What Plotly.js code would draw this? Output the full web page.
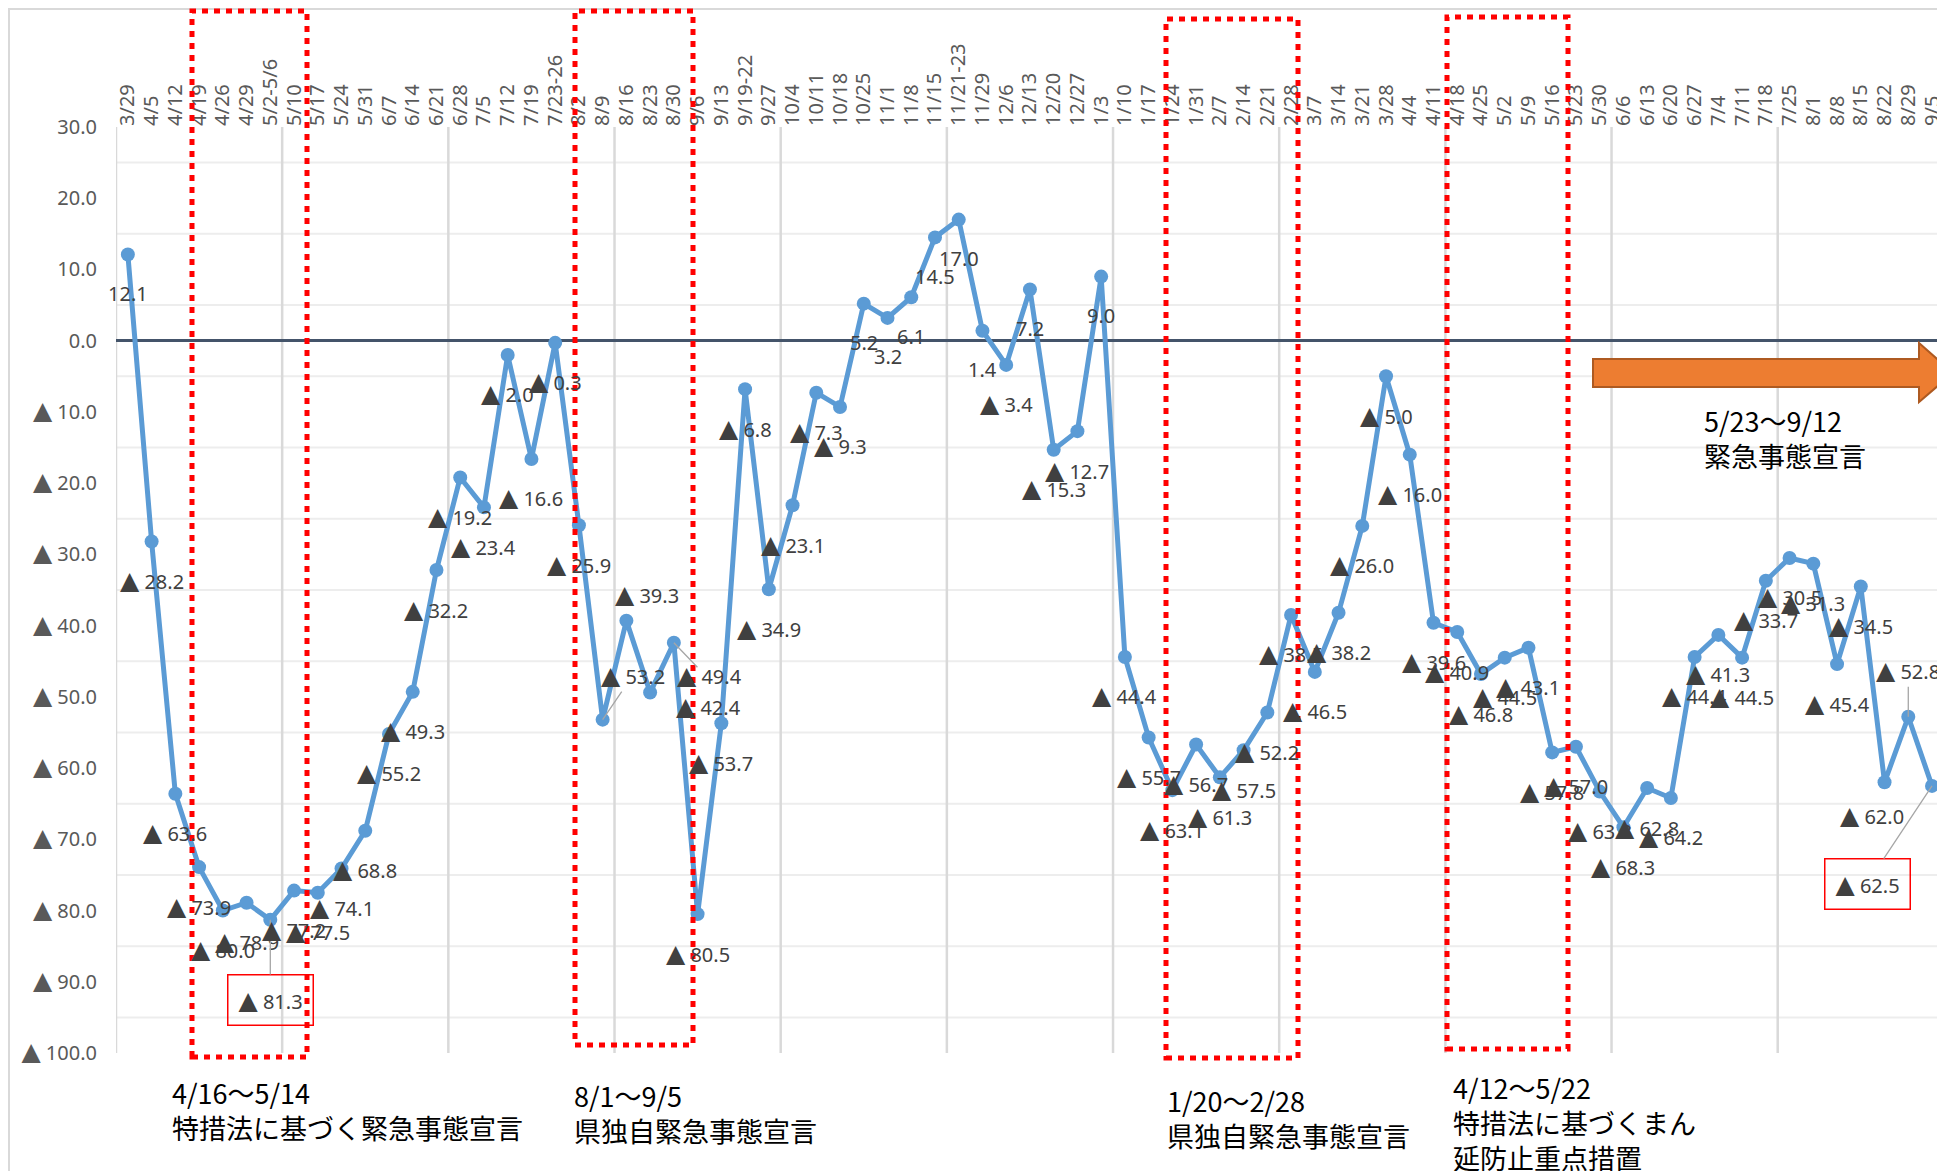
<!DOCTYPE html>
<html>
<head>
<meta charset="utf-8">
<script src="https://cdn.plot.ly/plotly-3.0.1.min.js"></script>
<style>
html,body{margin:0;padding:0;background:#ffffff;}
#chart{width:1937px;height:1171px;}
</style>
</head>
<body>
<div id="chart"></div>
<script>
// ---- data ----
const categories = ["3/29","4/5","4/12","4/19","4/26","4/29","5/2-5/6","5/10","5/17","5/24",
  "5/31","6/7","6/14","6/21","6/28","7/5","7/12","7/19","7/23-26","8/2",
  "8/9","8/16","8/23","8/30","9/6","9/13","9/19-22","9/27","10/4","10/11",
  "10/18","10/25","11/1","11/8","11/15","11/21-23","11/29","12/6","12/13","12/20",
  "12/27","1/3","1/10","1/17","1/24","1/31","2/7","2/14","2/21","2/28",
  "3/7","3/14","3/21","3/28","4/4","4/11","4/18","4/25","5/2","5/9",
  "5/16","5/23","5/30","6/6","6/13","6/20","6/27","7/4","7/11","7/18",
  "7/25","8/1","8/8","8/15","8/22","8/29","9/5"];
const values = [12.1,-28.2,-63.6,-73.9,-80.0,-78.9,-81.3,-77.2,-77.5,-74.1,
  -68.8,-55.2,-49.3,-32.2,-19.2,-23.4,-2.0,-16.6,-0.3,-25.9,
  -53.2,-39.3,-49.4,-42.4,-80.5,-53.7,-6.8,-34.9,-23.1,-7.3,
  -9.3,5.2,3.2,6.1,14.5,17.0,1.4,-3.4,7.2,-15.3,
  -12.7,9.0,-44.4,-55.7,-63.1,-56.7,-61.3,-57.5,-52.2,-38.5,
  -46.5,-38.2,-26.0,-5.0,-16.0,-39.6,-40.9,-46.8,-44.5,-43.1,
  -57.8,-57.0,-63.3,-68.3,-62.8,-64.2,-44.4,-41.3,-44.5,-33.7,
  -30.5,-31.3,-45.4,-34.5,-62.0,-52.8,-62.5];
const yTickValues = [30,20,10,0,-10,-20,-30,-40,-50,-60,-70,-80,-90,-100];
const periodTexts = [
  "4/16～5/14<br>特措法に基づく緊急事態宣言",
  "8/1～9/5<br>県独自緊急事態宣言",
  "1/20～2/28<br>県独自緊急事態宣言",
  "4/12～5/22<br>特措法に基づくまん<br>延防止重点措置",
  "5/23～9/12<br>緊急事態宣言"
];

// ---- layout helpers (styling / placement) ----
const W = 1937, H = 1171, ML = 116, MR = 0, MT = 127, MB = 118;
const PW = W - ML - MR, PH = H - MT - MB;
const px = x => (x - ML) / PW;
const py = y => (H - MB - y) / PH;
const FONT = "Noto Sans, Noto Sans CJK JP, sans-serif";
const JFONT = "Noto Sans CJK JP, sans-serif";
const TRI = '<span style="font-family:DejaVu Sans;font-size:25px">▲</span>';

function fmt(v){ return v >= 0 ? v.toFixed(1) : TRI + ' ' + Math.abs(v).toFixed(1); }

// label placement tweaks (pixel offsets from the point, +dy = down)
const labelPlacement = {
  6:  {dx: 0,   dy: 80, leader: true, box: true},
  20: {dx: 30,  dy: -44, leader: true},
  21: {dx: 21,  dy: -26},
  22: {dx: 59,  dy: -17},
  23: {dx: 35,  dy: 64},
  74: {dx: -13, dy: 33},
  75: {dx: 0,   dy: -46, leader: true},
  76: {dx: -65, dy: 98, leader: true, box: true}
};

const annotations = [];
values.forEach((v, i) => {
  const a = {x: categories[i], y: v, xref: 'x', yref: 'y', text: fmt(v),
    font: {family: FONT, size: 20, color: '#404040'}};
  const o = labelPlacement[i];
  if (!o) {
    Object.assign(a, {showarrow: false, yshift: -39});
  } else if (o.leader) {
    Object.assign(a, {showarrow: true, arrowhead: 0, arrowwidth: 1.3, arrowcolor: '#A6A6A6',
      ax: o.dx, ay: o.dy, standoff: 0, startstandoff: 0});
    if (o.box) Object.assign(a, {bordercolor: '#FF0000', borderwidth: 1.5, borderpad: 10, bgcolor: 'rgba(255,255,255,0)'});
  } else {
    Object.assign(a, {showarrow: false, xshift: o.dx, yshift: -o.dy});
  }
  annotations.push(a);
});
// leader segment seen next to the 8/23-8/30 labels
annotations.push({x: categories[23], y: values[23], xref: 'x', yref: 'y', text: '', showarrow: true,
  arrowhead: 0, arrowwidth: 1.3, arrowcolor: '#A6A6A6', ax: 25, ay: 26, standoff: 0});

const textPos = [[170,1110],[572,1113],[1165,1118],[1451,1122],[1702,438]];
periodTexts.forEach((t, i) => {
  annotations.push({xref: 'paper', yref: 'paper', x: px(textPos[i][0]), y: py(textPos[i][1]),
    xanchor: 'left', yanchor: 'middle', align: 'left', showarrow: false, text: t,
    font: {family: JFONT, size: 27, color: '#000000'}});
});

const shapes = [];
// chart border (top/left)
shapes.push({type: 'path', xref: 'paper', yref: 'paper', layer: 'above',
  path: `M ${px(9)},${py(H+20)} L ${px(9)},${py(9)} L ${px(W+20)},${py(9)}`,
  line: {color: '#D9D9D9', width: 2}});
// horizontal light grid
for (let g = 25; g > -100; g -= 10) {
  shapes.push({type: 'line', xref: 'paper', yref: 'y', x0: 0, x1: 1, y0: g, y1: g, layer: 'below',
    line: {color: '#EDEDED', width: 2}});
}
// vertical grid every 7 categories
for (let k = 0; k * 7 - 0.5 < categories.length; k++) {
  shapes.push({type: 'line', xref: 'x', yref: 'y', x0: k*7 - 0.5, x1: k*7 - 0.5, y0: -100, y1: 30, layer: 'below',
    line: {color: '#D9D9D9', width: 2.5}});
}
// red dotted period boxes
const boxes = [[192,11,307,1057],[575,11,693,1045],[1166,19,1298,1058],[1447,17,1568,1049]];
boxes.forEach(b => {
  shapes.push({type: 'rect', xref: 'paper', yref: 'paper', layer: 'above',
    x0: px(b[0]), x1: px(b[2]), y0: py(b[3]), y1: py(b[1]),
    line: {color: '#FF0000', width: 5, dash: '6px,6px'}, fillcolor: 'rgba(0,0,0,0)'});
});
// orange arrow
const arrowPts = [[1593,359],[1919,359],[1919,343],[1953,373],[1919,402],[1919,387],[1593,387]];
shapes.push({type: 'path', xref: 'paper', yref: 'paper', layer: 'above',
  path: 'M ' + arrowPts.map(p => px(p[0]) + ',' + py(p[1])).join(' L ') + ' Z',
  fillcolor: '#ED7D31', line: {color: '#AE5A21', width: 2}});

const trace = {
  x: categories, y: values, type: 'scatter', mode: 'lines+markers',
  line: {color: '#5B9BD5', width: 5},
  marker: {color: '#5B9BD5', size: 14},
  hoverinfo: 'skip', cliponaxis: false
};

const layout = {
  width: W, height: H,
  margin: {l: ML, r: MR, t: MT, b: MB, pad: 0},
  paper_bgcolor: '#ffffff', plot_bgcolor: '#ffffff',
  showlegend: false,
  xaxis: {
    type: 'category', side: 'top', range: [-0.5, 76.21],
    tickmode: 'array', tickvals: categories, ticktext: categories,
    tickangle: -90, tickfont: {family: FONT, size: 20, color: '#595959'},
    showgrid: false, zeroline: false, showline: false, ticks: '', automargin: false,
    fixedrange: true
  },
  yaxis: {
    range: [-100, 30], tickmode: 'array', tickvals: yTickValues,
    ticktext: yTickValues.map(fmt),
    tickfont: {family: FONT, size: 20, color: '#595959'},
    showgrid: false, zeroline: true, zerolinecolor: '#44546A', zerolinewidth: 3,
    showline: false, ticks: '', automargin: false, ticklabelstandoff: 18, fixedrange: true
  },
  shapes: shapes,
  annotations: annotations
};

Plotly.newPlot('chart', [trace], layout, {displayModeBar: false, staticPlot: true});
</script>
</body>
</html>
